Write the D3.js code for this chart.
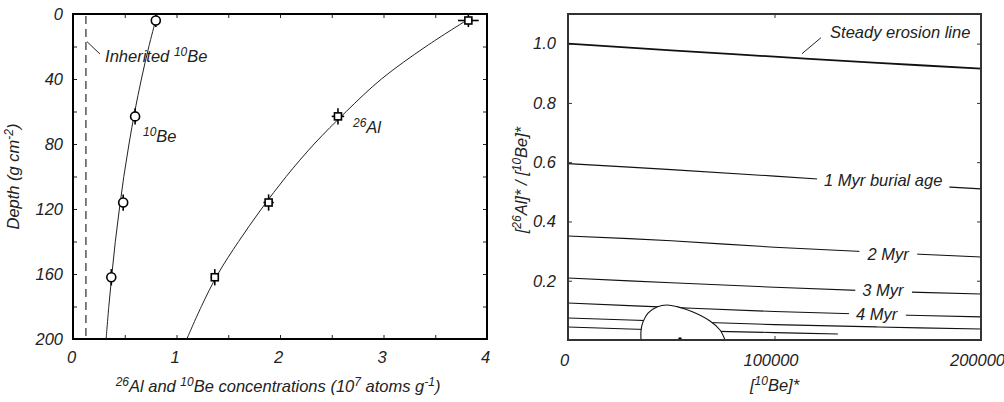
<!DOCTYPE html>
<html>
<head>
<meta charset="utf-8">
<script src="https://cdn.jsdelivr.net/npm/d3@7"></script>
<style>
body { margin: 0; background: #fff; }
svg text { font-family: "Liberation Sans", Arial, sans-serif; font-style: italic; font-size: 16.5px; fill: #222; }
</style>
</head>
<body>
<svg id="chart" width="1004" height="402"></svg>
<script>
// ---- left panel: depth profiles ----
var sampleDepth = [4, 63, 116, 162];
var be10Conc = [0.80, 0.60, 0.485, 0.37];
var be10Err = [0.02, 0.02, 0.02, 0.02];
var al26Conc = [3.82, 2.56, 1.89, 1.37];
var al26Err = [0.10, 0.06, 0.05, 0.04];
var depthErr = [4, 5, 5, 5];

var be10CurveDepth = [0, 20, 40, 60, 80, 100, 120, 140, 160, 180, 200];
var be10Curve = [0.815, 0.733, 0.661, 0.597, 0.541, 0.491, 0.448, 0.409, 0.376, 0.346, 0.320];
var al26CurveDepth = [4, 20, 40, 60, 80, 100, 120, 140, 160, 180, 200];
var al26Curve = [3.80, 3.41, 2.98, 2.64, 2.33, 2.06, 1.82, 1.60, 1.40, 1.24, 1.10];
var inheritedBe10 = 0.125;

var depthLabels = [0, 40, 80, 120, 160, 200];
var concLabels = [0, 1, 2, 3, 4];

// ---- right panel: two-isotope diagram ----
var beStar = [0, 50000, 100000, 150000, 200000];
var steadyErosion = [1.0, 0.977, 0.956, 0.935, 0.916];
var burial1 = [0.595, 0.575, 0.553, 0.530, 0.510];
var burial2 = [0.351, 0.335, 0.313, 0.296, 0.280];
var burial3 = [0.209, 0.193, 0.178, 0.165, 0.155];
var burial4 = [0.125, 0.110, 0.096, 0.086, 0.078];
var burial5 = [0.074, 0.063, 0.052, 0.044, 0.037];
var burial6X = [0, 50000, 100000, 130700];
var burial6 = [0.044, 0.033, 0.025, 0.020];
var blobX = [35350, 35400, 36320, 38740, 43100, 47940, 52780, 60530, 68770, 73610, 76030];
var blobY = [0, 0.034, 0.061, 0.091, 0.1115, 0.118, 0.1125, 0.0946, 0.0642, 0.0338, 0];
var sampleStar = [54240, 0.003];

var ratioLabels = [0.2, 0.4, 0.6, 0.8, 1.0];
var beStarLabels = [0, 100000, 200000];

var svg = d3.select('#chart');

// text with superscripts: strings are normal, one-item arrays are raised
function richText(t, parts) {
    var shift = 0;
    parts.forEach(function (p) {
        var s = t.append('tspan');
        if (Array.isArray(p)) {
            s.attr('dy', -6 - shift).style('font-size', '12px').text(p[0]);
            shift = -6;
        } else {
            s.attr('dy', -shift).text(p);
            shift = 0;
        }
    });
    return t;
}

// ================= left panel =================
var L = { left: 73, right: 487, top: 14, bottom: 339 };
var xL = d3.scaleLinear().domain([0, 4]).range([L.left, L.right]);
var yL = d3.scaleLinear().domain([0, 200]).range([L.top, L.bottom]);
var gL = svg.append('g');

gL.append('g').attr('transform', `translate(${L.left},0)`)
    .call(d3.axisLeft(yL).tickValues(d3.range(0, 201, 20)).tickSize(-4).tickSizeOuter(0).tickPadding(8)
        .tickFormat(d => depthLabels.indexOf(d) >= 0 ? d : ''));
gL.append('g').attr('transform', `translate(${L.right},0)`)
    .call(d3.axisRight(yL).tickValues(d3.range(0, 201, 20)).tickSize(-4).tickSizeOuter(0).tickFormat(''));
gL.append('g').attr('transform', `translate(0,${L.bottom})`)
    .call(d3.axisBottom(xL).tickValues(d3.range(0, 4.01, 0.5)).tickSize(-4).tickSizeOuter(0).tickPadding(12)
        .tickFormat(d => concLabels.indexOf(d) >= 0 ? d : ''));
gL.append('g').attr('transform', `translate(0,${L.top})`)
    .call(d3.axisTop(xL).tickValues(d3.range(0, 4.01, 0.5)).tickSize(-4).tickSizeOuter(0).tickFormat(''));
gL.selectAll('.domain').remove();
gL.selectAll('.tick line').attr('stroke', '#222');
gL.selectAll('.tick text').style('font-size', '16.5px').attr('dx', -2);

gL.append('rect').attr('x', L.left).attr('y', L.top)
    .attr('width', L.right - L.left).attr('height', L.bottom - L.top)
    .attr('fill', 'none').attr('stroke', '#000').attr('stroke-width', 2);

// inherited 10Be
gL.append('line')
    .attr('x1', xL(inheritedBe10)).attr('x2', xL(inheritedBe10))
    .attr('y1', yL(0) + 2).attr('y2', yL(200))
    .attr('stroke', '#000').attr('stroke-width', 1).attr('stroke-dasharray', '8,5');
gL.append('line')
    .attr('x1', xL(0.135)).attr('y1', yL(17))
    .attr('x2', xL(0.26)).attr('y2', yL(24.6))
    .attr('stroke', '#222').attr('stroke-width', 1);

var lineL = d3.line().curve(d3.curveCatmullRom);
gL.append('path')
    .attr('d', lineL(be10CurveDepth.map((d, i) => [xL(be10Curve[i]), yL(d)])))
    .attr('fill', 'none').attr('stroke', '#222').attr('stroke-width', 1);
gL.append('path')
    .attr('d', lineL(al26CurveDepth.map((d, i) => [xL(al26Curve[i]), yL(d)])))
    .attr('fill', 'none').attr('stroke', '#222').attr('stroke-width', 1);

// error bars
function errBars(conc, err) {
    sampleDepth.forEach(function (d, i) {
        gL.append('line')
            .attr('x1', xL(conc[i])).attr('x2', xL(conc[i]))
            .attr('y1', yL(d - depthErr[i])).attr('y2', yL(d + depthErr[i]))
            .attr('stroke', '#000').attr('stroke-width', 1.6);
        gL.append('line')
            .attr('x1', xL(conc[i] - err[i])).attr('x2', xL(conc[i] + err[i]))
            .attr('y1', yL(d)).attr('y2', yL(d))
            .attr('stroke', '#000').attr('stroke-width', 1.6);
    });
}
errBars(be10Conc, be10Err);
errBars(al26Conc, al26Err);

gL.selectAll('circle.be').data(sampleDepth).join('circle')
    .attr('cx', (d, i) => xL(be10Conc[i])).attr('cy', d => yL(d)).attr('r', 4.5)
    .attr('fill', '#fff').attr('stroke', '#000').attr('stroke-width', 1.6);
gL.selectAll('rect.al').data(sampleDepth).join('rect')
    .attr('x', (d, i) => xL(al26Conc[i]) - 3.5).attr('y', d => yL(d) - 3.5)
    .attr('width', 7).attr('height', 7)
    .attr('fill', '#fff').attr('stroke', '#000').attr('stroke-width', 1.6);

richText(gL.append('text').attr('x', xL(0.31)).attr('y', yL(29.5)), ['Inherited ', ['10'], 'Be']);
richText(gL.append('text').attr('x', xL(0.676)).attr('y', yL(78.8)), [['10'], 'Be']);
richText(gL.append('text').attr('x', xL(2.705)).attr('y', yL(73.2)), [['26'], 'Al']);

richText(gL.append('text').attr('transform', `translate(19,${(L.top + L.bottom) / 2}) rotate(-90)`)
    .attr('text-anchor', 'middle'), ['Depth (g cm', ['-2'], ')']);
richText(gL.append('text').attr('x', (L.left + L.right) / 2 - 2).attr('y', 392).attr('text-anchor', 'middle'),
    [['26'], 'Al and ', ['10'], 'Be concentrations (10', ['7'], ' atoms g', ['-1'], ')']);

// ================= right panel =================
var R = { left: 568, right: 981, top: 14, bottom: 340 };
var xR = d3.scaleLinear().domain([0, 200000]).range([R.left, R.right]);
var yR = d3.scaleLinear().domain([0, 1.1]).range([R.bottom, R.top]);
var gR = svg.append('g');

gR.append('g').attr('transform', `translate(${R.left},0)`)
    .call(d3.axisLeft(yR).tickValues(ratioLabels).tickSize(-4).tickSizeOuter(0).tickPadding(8)
        .tickFormat(d3.format('.1f')));
gR.append('g').attr('transform', `translate(${R.right},0)`)
    .call(d3.axisRight(yR).tickValues(ratioLabels).tickSize(-4).tickSizeOuter(0).tickFormat(''));
gR.append('g').attr('transform', `translate(0,${R.bottom})`)
    .call(d3.axisBottom(xR).tickValues(beStarLabels).tickSize(-4).tickSizeOuter(0).tickPadding(14)
        .tickFormat(d => d));
gR.append('g').attr('transform', `translate(0,${R.top})`)
    .call(d3.axisTop(xR).tickValues(beStarLabels).tickSize(-4).tickSizeOuter(0).tickFormat(''));
gR.selectAll('.domain').remove();
gR.selectAll('.tick line').attr('stroke', '#333');
gR.selectAll('.tick text').style('font-size', '16.5px').attr('dx', -4);

var lineR = d3.line().curve(d3.curveCatmullRom);
function contour(xs, ys, w) {
    return gR.append('path')
        .attr('d', lineR(xs.map((x, i) => [xR(x), yR(ys[i])])))
        .attr('fill', 'none').attr('stroke', '#111').attr('stroke-width', w || 1.1);
}
contour(beStar, steadyErosion, 1.8);
contour(beStar, burial1);
contour(beStar, burial2);
contour(beStar, burial3);
contour(beStar, burial4);
contour(beStar, burial5);
contour(burial6X, burial6);

// white blob
gR.append('path')
    .attr('d', d3.line().curve(d3.curveCatmullRom)(blobX.map((x, i) => [xR(x), yR(blobY[i])])))
    .attr('fill', '#fff').attr('stroke', '#111').attr('stroke-width', 1.1);
gR.append('circle').attr('cx', xR(sampleStar[0])).attr('cy', yR(sampleStar[1])).attr('r', 1.8).attr('fill', '#000');

gR.append('rect').attr('x', R.left).attr('y', R.top)
    .attr('width', R.right - R.left).attr('height', R.bottom - R.top)
    .attr('fill', 'none').attr('stroke', '#333').attr('stroke-width', 2);

// contour labels with white backing
function label(text, x, y) {
    var t = gR.append('text').attr('x', xR(x)).attr('y', yR(y)).text(text);
    var b = t.node().getBBox();
    gR.insert('rect', function () { return t.node(); })
        .attr('x', b.x - 7).attr('y', b.y - 1).attr('width', b.width + 14).attr('height', b.height + 2)
        .attr('fill', '#fff');
}
label('1 Myr burial age', 124000, 0.520);
label('2 Myr', 145000, 0.270);
label('3 Myr', 142500, 0.149);
label('4 Myr', 139500, 0.068);

gR.append('text').attr('x', xR(126900)).attr('y', yR(1.020)).text('Steady erosion line');
gR.append('line')
    .attr('x1', xR(113300)).attr('y1', yR(0.966))
    .attr('x2', xR(122500)).attr('y2', yR(1.020))
    .attr('stroke', '#222').attr('stroke-width', 1);

richText(gR.append('text').attr('transform', `translate(527,${(R.top + R.bottom) / 2 + 3}) rotate(-90)`)
    .attr('text-anchor', 'middle'), ['[', ['26'], 'Al]* / [', ['10'], 'Be]*']);
richText(gR.append('text').attr('x', xR(100000)).attr('y', 391).attr('text-anchor', 'middle'),
    ['[', ['10'], 'Be]*']);
</script>
</body>
</html>
